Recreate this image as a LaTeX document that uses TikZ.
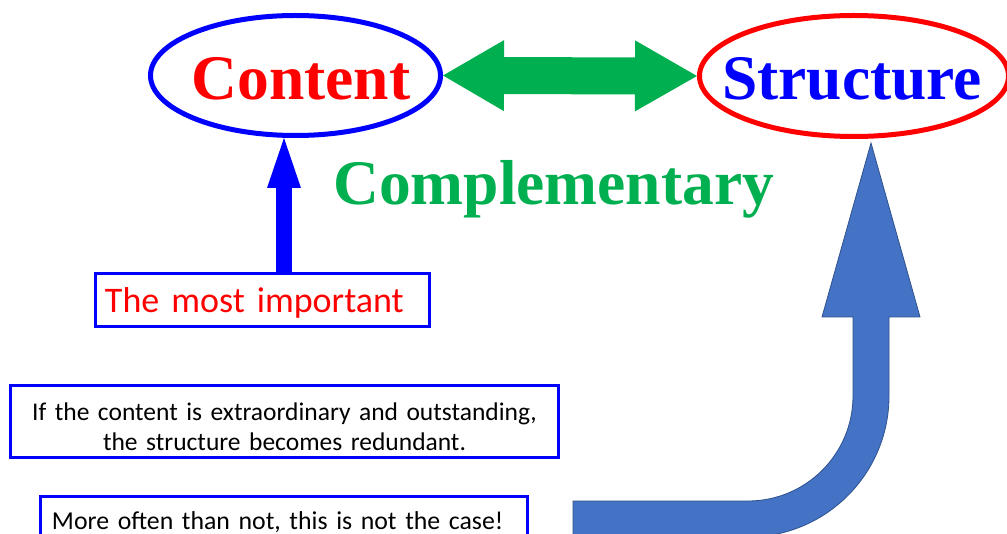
\documentclass[tikz,border=0pt]{standalone}
\usepackage{fontspec}
\setmainfont{Liberation Serif}
\newfontfamily\calibri{Carlito}
\usetikzlibrary{shapes.geometric,arrows.meta,calc}
\definecolor{pureblue}{HTML}{0000FF}
\definecolor{purered}{HTML}{FF0000}
\definecolor{compgreen}{HTML}{00B050}
\definecolor{blockblue}{HTML}{4472C4}
\definecolor{blockedge}{HTML}{2F528F}
\begin{document}
\begin{tikzpicture}[x=1bp,y=-1bp,
  ell/.style={ellipse, line width=5bp, inner sep=0pt},
  bigword/.style={font=\fontsize{63.5bp}{70bp}\selectfont\bfseries, anchor=base, inner sep=0pt},
  textbox/.style={draw=pureblue, line width=3bp, inner xsep=0pt, inner ysep=0pt}]
\useasboundingbox (0,0) rectangle (1007,534);
\clip (0,0) rectangle (1007,534);
\fill[white] (0,0) rectangle (1007,534);

% ellipses and their words
\node[ell, draw=pureblue, minimum width=290bp, minimum height=120bp] (content) at (295.5,75.5) {};
\node[ell, draw=purered, minimum width=309bp, minimum height=121bp] (structure) at (854,76) {};
\node[bigword, text=purered] (contentlbl) at (301,100) {Content};
\node[bigword, text=pureblue] (structurelbl) at (852,100) {Structure};
\node[bigword, anchor=base west, text=compgreen] (comp) at (333,205) {Complementary};

% green double arrow
\draw[compgreen, line width=37bp,
  {Triangle[width=71bp,length=61bp,line width=0pt]}-{Triangle[width=71bp,length=62bp,line width=0pt]}]
  (content.east) -- (structure.west);

% boxes
\node[textbox, minimum width=334bp, minimum height=53bp, text width=315bp, align=left,
  text height=24bp, text depth=0pt, font=\calibri\fontsize{36bp}{40bp}\selectfont, text=purered]
  (imp) at (262.5,300) {The most important};
\node[textbox, minimum width=548bp, minimum height=72bp, text width=540bp, align=center,
  text height=18bp, text depth=21bp, font=\calibri\fontsize{25.5bp}{30bp}\selectfont, text=black]
  (extra) at (284.5,421.5) {If the content is extraordinary and outstanding,\\the structure becomes redundant.};
\node[textbox, minimum width=487bp, minimum height=48bp, text width=464bp, align=left,
  text height=17bp, text depth=0pt, font=\calibri\fontsize{25.8bp}{30bp}\selectfont, text=black]
  (often) at (284,520.5) {More often than not, this is not the case!};

% blue arrow from box to Content
\coordinate (a1) at ([xshift=21.5bp]imp.north);
\draw[pureblue, line width=16bp, -{Triangle[width=34bp,length=50bp,line width=0pt]}]
  (a1) -- (a1 |- content.south);

% big curved block arrow
\filldraw[fill=blockblue, draw=blockedge, line width=0.8bp]
  (573,501) -- (748,501) arc[start angle=90, end angle=0, radius=105]
  -- (853,317) -- (822,317) -- (871,143) -- (920,317) -- (889,317) -- (889,396)
  arc[start angle=0, end angle=90, radius=141] -- (573,537) -- cycle;
\end{tikzpicture}
\end{document}
